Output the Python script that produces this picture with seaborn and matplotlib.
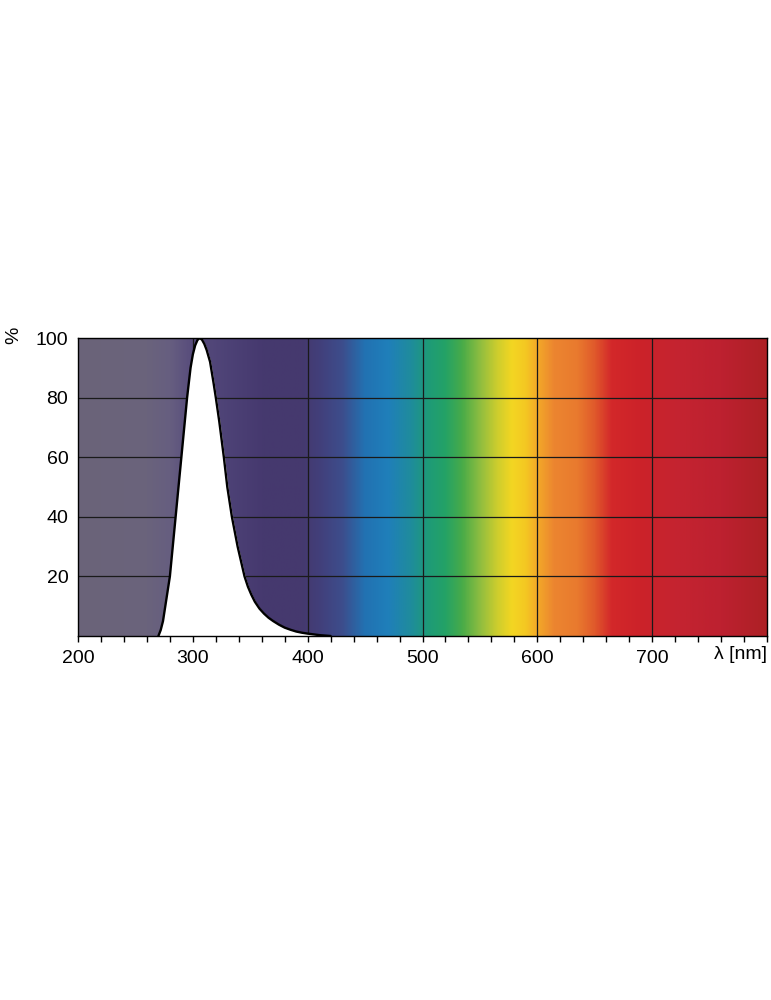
import numpy as np
import pandas as pd
import matplotlib
matplotlib.use('Agg')
import matplotlib.pyplot as plt
import seaborn as sns
from matplotlib.colors import LinearSegmentedColormap

# emission curve
wavelength = [270, 272, 274, 276, 278, 280, 282.5, 285, 287.5, 290, 292.5, 295, 298, 300,
              302, 304, 306, 308, 310, 312, 315, 318, 320, 323, 327, 330, 334, 339, 342,
              345, 348, 351, 354, 358, 362, 366, 370, 375, 380, 385, 390, 395, 400, 410, 420]
intensity = [0, 2, 5, 10, 15, 20, 30, 40, 50, 60, 70, 80, 90, 94.5,
             97.5, 99.3, 100, 99.4, 98, 96, 92, 85, 80, 72, 60, 50, 40, 30, 25,
             20, 16.5, 13.8, 11.5, 9.2, 7.5, 6.1, 5.0, 3.8, 2.8, 2.1, 1.5, 1.1, 0.8, 0.3, 0]

# spectrum background stops (nm, colour)
stop_nm = [200, 260, 280, 300, 330, 360, 395, 410, 430, 450, 470, 490, 505, 520, 535,
           550, 565, 578, 590, 600, 615, 635, 650, 665, 690, 720, 760, 800]
stop_col = ['#6b6479', '#6a637c', '#665e80', '#574b7c', '#4d4276', '#46396f', '#45396e',
            '#423f7a', '#3d4d8c', '#2272b2', '#1f7fba', '#1f8c9c', '#1e9b78', '#24a266',
            '#49ab48', '#8dbd40', '#cccd2e', '#f3d622', '#f4c822', '#f3aa28', '#ec8530',
            '#e97a2e', '#e05a2b', '#d3282a', '#cc2229', '#c52430', '#bd2130', '#ad2025']

x_ticks = [200, 300, 400, 500, 600, 700]
y_ticks = [20, 40, 60, 80, 100]

df = pd.DataFrame({'nm': wavelength, 'pct': intensity})

sns.set_style('ticks')
plt.rcParams['font.family'] = ['Liberation Sans', 'DejaVu Sans']

fig = plt.figure(figsize=(7.71, 10), dpi=100)
ax = fig.add_axes([0.1012, 0.364, 0.8936, 0.298])

# gradient background
lo, hi = stop_nm[0], stop_nm[-1]
cmap = LinearSegmentedColormap.from_list(
    'spec', [((n - lo) / (hi - lo), c) for n, c in zip(stop_nm, stop_col)], N=1024)
grad = np.linspace(0, 1, 1200).reshape(1, -1)
ax.imshow(grad, cmap=cmap, aspect='auto', extent=(lo, hi, 0, 100), zorder=0)

# grid
for v in x_ticks[1:]:
    ax.axvline(v, color='#1a1a1a', lw=0.9, zorder=1)
for v in y_ticks[:-1]:
    ax.axhline(v, color='#1a1a1a', lw=0.9, zorder=1)

# curve
ax.fill_between(df['nm'], df['pct'], 0, color='white', zorder=2)
sns.lineplot(data=df, x='nm', y='pct', color='black', lw=1.7, ax=ax, zorder=3)

ax.set_xlim(200, 800)
ax.set_ylim(0, 100)
ax.set_xticks(x_ticks)
ax.set_xticks(np.arange(200, 801, 20), minor=True)
ax.set_yticks(y_ticks)
ax.tick_params(axis='x', which='both', direction='out', length=4, width=1, colors='black',
               labelsize=14, pad=6)
ax.tick_params(axis='y', length=0, labelsize=14, pad=7, labelcolor='black')
for s in ax.spines.values():
    s.set_color('black')
    s.set_linewidth(1)

ax.set_xlabel('')
ax.set_ylabel('')
ax.text(-0.093, 1.01, '%', transform=ax.transAxes, rotation=90, ha='center', va='center',
        fontsize=14, color='black')
ax.text(1.0, -0.035, 'λ [nm]', transform=ax.transAxes, ha='right', va='top', fontsize=14,
        color='black')

fig.savefig('out.png', dpi=100)
